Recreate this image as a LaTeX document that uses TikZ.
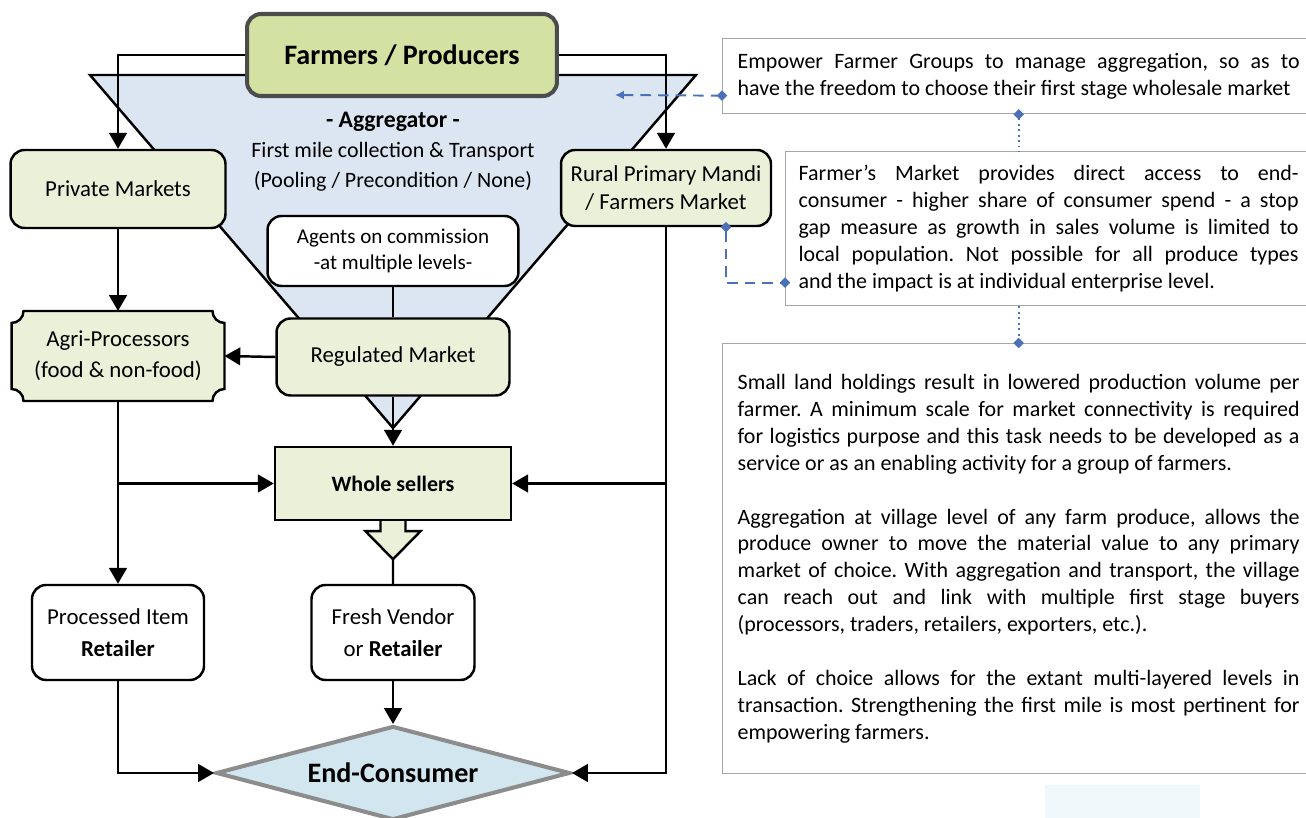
\documentclass[tikz,border=0pt]{standalone}
\usepackage{fontspec}
\setmainfont{Carlito}
\frenchspacing
\usetikzlibrary{arrows.meta,shapes.geometric,calc,backgrounds}
\definecolor{grnfill}{HTML}{EBF0D9}
\definecolor{farmfill}{HTML}{D3E1A3}
\definecolor{funnelblue}{HTML}{DCE6F2}
\definecolor{consblue}{HTML}{D2E6EF}
\definecolor{linkblue}{HTML}{4A70B8}
\definecolor{notegray}{HTML}{A6A6A6}
\definecolor{haze}{HTML}{F0F8FC}

\begin{document}
\begin{tikzpicture}[x=0.02cm, y=0.02cm]
    \tikzstyle{txt}=[font=\fontsize{13}{15.6}\selectfont]
    \tikzstyle{gbox}=[txt, draw=black, line width=1.4pt, fill=grnfill, rounded corners=8pt, align=center, inner sep=2pt]
    \tikzstyle{wbox}=[txt, draw=black, line width=1.4pt, fill=white, rounded corners=8pt, align=center, inner sep=2pt]
    \tikzstyle{note}=[font=\fontsize{12.5}{15.3}\selectfont, draw=notegray, line width=0.8pt, fill=white, align=justify, anchor=north west, inner ysep=0pt]
    \tikzstyle{arr}=[line width=1.4pt, -{Triangle[length=9pt,width=10pt]}]
    \tikzstyle{link}=[linkblue, line width=1.1pt, dash pattern=on 6pt off 4pt]
    \tikzstyle{dotlink}=[linkblue, line width=1.1pt, dotted]

    \useasboundingbox (0,0) rectangle (1306,818);
    \fill[haze] (1045,0) rectangle (1200,33);

    % aggregation funnel
    \draw[line width=1.4pt, fill=funnelblue] (90,743) -- (696,743) -- (393,390) -- cycle;

    \node (farm) at (402,763) [gbox, fill=farmfill, draw=black!70, line width=2.3pt, minimum width=6.2cm, minimum height=1.64cm, font=\fontsize{16}{19}\selectfont\bfseries] {Farmers / Producers};
    \node (aggr) at (393,666) [align=center, font=\fontsize{12.5}{17}\selectfont] {{\fontsize{13.5}{17}\selectfont\bfseries - Aggregator -}\\First mile collection \& Transport\\(Pooling / Precondition / None)};
    \node (priv) at (118,629) [gbox, minimum width=4.3cm, minimum height=1.56cm] {Private Markets};
    \node (rural) at (666,630) [gbox, minimum width=4.2cm, minimum height=1.52cm] {Rural Primary Mandi\\/ Farmers Market};
    \node (agents) at (393,567) [wbox, minimum width=5.02cm, minimum height=1.4cm, font=\fontsize{12}{15}\selectfont] {Agents on commission\\-at multiple levels-};
    \node (reg) at (393,461) [gbox, minimum width=4.66cm, minimum height=1.54cm] {Regulated Market};
    \node (agri) at (118,462) [txt, align=center, minimum width=4.26cm, minimum height=1.8cm, outer sep=0pt] {Agri-Processors\\[2pt](food \& non-food)};
    \node (whole) at (393,334.5) [gbox, rounded corners=0pt, minimum width=4.72cm, minimum height=1.46cm, font=\fontsize{12.5}{15}\selectfont\bfseries] {Whole sellers};
    \node (proc) at (118,185.5) [wbox, minimum width=3.44cm, minimum height=1.9cm] {Processed Item\\[3pt]\textbf{Retailer}};
    \node (fresh) at (393,185.5) [wbox, minimum width=3.26cm, minimum height=1.9cm] {Fresh Vendor\\[3pt]or \textbf{Retailer}};
    \node (cons) at (393,45) [diamond, aspect=3.77, draw=black!45, line width=2.3pt, fill=consblue, minimum width=7.08cm, minimum height=1.88cm, inner sep=0pt, font=\fontsize{16}{19}\selectfont\bfseries] {End-Consumer};

    \begin{scope}[on background layer]
    \draw[line width=1.4pt, fill=grnfill] ([xshift=0.24cm]agri.north west) -- ([xshift=-0.24cm]agri.north east) arc[start angle=180, end angle=270, radius=0.24cm] -- ([yshift=0.24cm]agri.south east) arc[start angle=90, end angle=180, radius=0.24cm] -- ([xshift=0.24cm]agri.south west) arc[start angle=0, end angle=90, radius=0.24cm] -- ([yshift=-0.24cm]agri.north west) arc[start angle=270, end angle=360, radius=0.24cm] -- cycle;
    \end{scope}

    \node (box1) at (722,780) [note, text width=11.24cm, inner xsep=0.3cm, minimum height=1.5cm] {Empower Farmer Groups to manage aggregation, so as to\linebreak have the freedom to choose their first stage wholesale market};
    \node (box2) at (785,667) [note, text width=10cm, inner xsep=0.26cm, minimum height=3.08cm] {Farmer’s Market provides direct access to end-\linebreak consumer - higher share of consumer spend - a stop\linebreak gap measure as growth in sales volume is limited to\linebreak local population. Not possible for all produce types\linebreak and the impact is at individual enterprise level.};
    \node (box3) at (722,475) [note, text width=11.24cm, inner xsep=0.3cm, minimum height=8.6cm] {Small land holdings result in lowered production volume per\linebreak farmer. A minimum scale for market connectivity is required\linebreak for logistics purpose and this task needs to be developed as a\linebreak service or as an enabling activity for a group of farmers.\par\vspace{\baselineskip}
    Aggregation at village level of any farm produce, allows the\linebreak produce owner to move the material value to any primary\linebreak market of choice. With aggregation and transport, the village\linebreak can reach out and link with multiple first stage buyers\linebreak (processors, traders, retailers, exporters, etc.).\par\vspace{\baselineskip}
    Lack of choice allows for the extant multi-layered levels in\linebreak transaction. Strengthening the first mile is most pertinent for\linebreak empowering farmers.};

    \draw[arr] (farm.west) -| (priv.north);
    \draw[arr] (farm.east) -| (rural.north);
    \draw[arr] (priv.south) -- (agri.north);
    \draw[arr] (reg.west) -- (agri.east);
    \draw[line width=1.4pt] (agents.south) -- (reg.north);
    \draw[arr] (reg.south) -- (whole.north);
    \draw[arr] (agri.south) -- (proc.north);
    \draw[arr] (agri.south |- whole.west) -- (whole.west);
    \draw[arr] (rural.south |- whole.east) -- (whole.east);
    \draw[arr] (rural.south) |- (cons.east);
    \draw[arr] (proc.south) |- (cons.west);
    \draw[arr] (fresh.south) -- (cons.north);
    \draw[line width=1.4pt, fill=grnfill] ([xshift=-0.25cm]whole.south) -- ++(0,-10) -- ++(-15,0) -- ++(27.5,-28) coordinate (tip) -- ++(27.5,28) -- ++(-15,0) -- ++(0,10);
    \draw[line width=1.4pt] (tip) -- (fresh.north);

    \coordinate (aggtip) at (615,723);
    \draw[link, {Latex[length=5pt,width=5pt]}-{Diamond[length=6pt,width=6pt]}, shorten >=-3pt] (aggtip) -- ($(box1.west)+(0,-19.5)$);
    \draw[link, {Diamond[length=6pt,width=6pt]}-{Diamond[length=6pt,width=6pt]}, shorten <=-3pt, shorten >=-3pt] ($(rural.south)+(60,0)$) |- ($(box2.west)+(0,-54)$);
    \draw[dotlink, {Diamond[length=6pt,width=6pt]}-, shorten <=-3pt] ($(box1.south)+(0,0)$) coordinate (d1) -- (d1 |- box2.north);
    \draw[dotlink, -{Diamond[length=6pt,width=6pt]}, shorten >=-3pt] (d1 |- box2.south) -- (d1 |- box3.north);
\end{tikzpicture}
\end{document}
